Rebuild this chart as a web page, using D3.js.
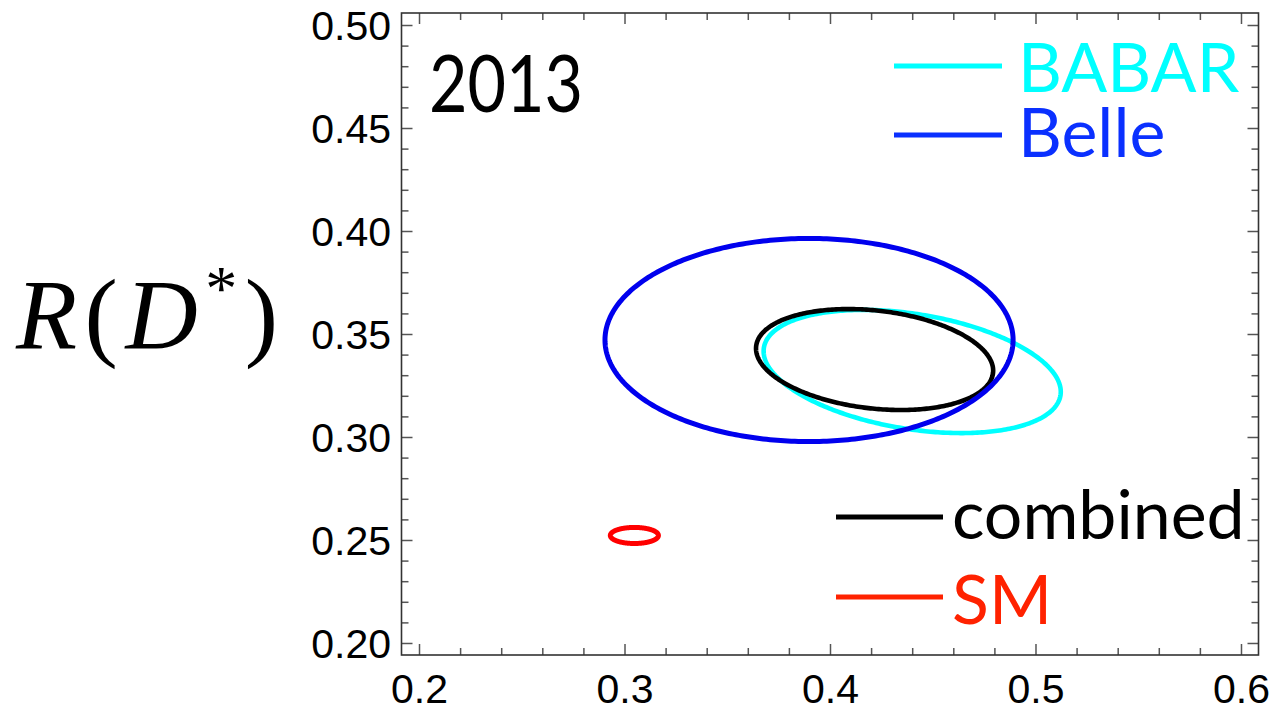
<!DOCTYPE html>
<html>
<head>
<meta charset="utf-8">
<script src="https://cdn.jsdelivr.net/npm/d3@7"></script>
<style>
  html, body { margin: 0; padding: 0; background: #ffffff; }
  svg { display: block; }
</style>
</head>
<body>
<svg id="chart" width="1275" height="712"></svg>
<script>
// R(D) on the x axis, R(D*) on the y axis
const xTickValues = [0.2, 0.3, 0.4, 0.5, 0.6];
const xTickLabels = ["0.2", "0.3", "0.4", "0.5", "0.6"];
const yTickValues = [0.20, 0.25, 0.30, 0.35, 0.40, 0.45, 0.50];
const yTickLabels = ["0.20", "0.25", "0.30", "0.35", "0.40", "0.45", "0.50"];

// 1-sigma contours: centre, widths and correlation
const contourNames   = ["BABAR", "combined", "Belle", "SM"];
const contourRD      = [0.440, 0.4217, 0.3898, 0.3048];
const contourRDstar  = [0.3318, 0.3376, 0.3471, 0.2522];
const contourSigRD   = [0.0723, 0.0577, 0.0993, 0.0117];
const contourSigRDs  = [0.0299, 0.0245, 0.0493, 0.0039];
const contourRho     = [-0.33, -0.22, 0.0, 0.0];

const legendNames = ["BABAR", "Belle", "combined", "SM"];

const colors = {
  BABAR: "#00ffff",
  Belle: "#0000ee",
  combined: "#000000",
  SM: "#ff0000"
};
const legendColors = {
  BABAR: "#00ffff",
  Belle: "#0a30ff",
  combined: "#000000",
  SM: "#ff2200"
};

const svg = d3.select("#chart");

const plot = { left: 401.5, right: 1258.5, top: 13, bottom: 655 };

const x = d3.scaleLinear().domain([0.19148, 0.60852]).range([plot.left, plot.right]);
const y = d3.scaleLinear().domain([0.19417, 0.50583]).range([plot.bottom, plot.top]);

const xMinor = d3.range(0.2, 0.6001, 0.02).map(v => +v.toFixed(2)).filter(v => !xTickValues.some(m => Math.abs(m - v) < 1e-9));
const yMinor = d3.range(0.20, 0.5001, 0.01).map(v => +v.toFixed(2)).filter(v => !yTickValues.some(m => Math.abs(m - v) < 1e-9));

const axisColor = "#555";
const majorLen = 11, minorLen = 7;

function styleAxis(g) {
  g.select(".domain").remove();
  g.selectAll(".tick line").attr("stroke", axisColor).attr("stroke-width", 1.5);
}

// bottom
svg.append("g").attr("transform", `translate(0,${plot.bottom})`)
  .call(d3.axisBottom(x).tickValues(xMinor).tickSize(-minorLen).tickFormat(""))
  .call(styleAxis);
const gx = svg.append("g").attr("transform", `translate(0,${plot.bottom})`)
  .call(d3.axisBottom(x).tickValues(xTickValues).tickSize(-majorLen)
    .tickFormat((d, i) => xTickLabels[i]))
  .call(styleAxis);
gx.selectAll(".tick text")
  .attr("y", 48).attr("dy", 0)
  .attr("fill", "#000")
  .style("font-family", "'Liberation Sans', Arial, sans-serif")
  .style("font-size", "41px");

// top
svg.append("g").attr("transform", `translate(0,${plot.top})`)
  .call(d3.axisTop(x).tickValues(xMinor).tickSize(-minorLen).tickFormat(""))
  .call(styleAxis);
svg.append("g").attr("transform", `translate(0,${plot.top})`)
  .call(d3.axisTop(x).tickValues(xTickValues).tickSize(-majorLen).tickFormat(""))
  .call(styleAxis);

// left
svg.append("g").attr("transform", `translate(${plot.left},0)`)
  .call(d3.axisLeft(y).tickValues(yMinor).tickSize(-minorLen).tickFormat(""))
  .call(styleAxis);
const gy = svg.append("g").attr("transform", `translate(${plot.left},0)`)
  .call(d3.axisLeft(y).tickValues(yTickValues).tickSize(-majorLen)
    .tickFormat((d, i) => yTickLabels[i]))
  .call(styleAxis);
gy.selectAll(".tick text")
  .attr("x", -10.5).attr("dy", "0.35em")
  .attr("fill", "#000")
  .style("font-family", "'Liberation Sans', Arial, sans-serif")
  .style("font-size", "41px");

// right
svg.append("g").attr("transform", `translate(${plot.right},0)`)
  .call(d3.axisRight(y).tickValues(yMinor).tickSize(-minorLen).tickFormat(""))
  .call(styleAxis);
svg.append("g").attr("transform", `translate(${plot.right},0)`)
  .call(d3.axisRight(y).tickValues(yTickValues).tickSize(-majorLen).tickFormat(""))
  .call(styleAxis);

// frame
svg.append("rect")
  .attr("x", plot.left).attr("y", plot.top)
  .attr("width", plot.right - plot.left).attr("height", plot.bottom - plot.top)
  .attr("fill", "none").attr("stroke", "#333").attr("stroke-width", 1.6);

// contours
const contours = contourNames.map((name, i) => ({
  name, cx: contourRD[i], cy: contourRDstar[i],
  sx: contourSigRD[i], sy: contourSigRDs[i], rho: contourRho[i]
}));

const line = d3.line().x(p => x(p[0])).y(p => y(p[1])).curve(d3.curveLinearClosed);
const angles = d3.range(0, 2 * Math.PI, Math.PI / 180);

const widths = { BABAR: 4.6, combined: 4.6, Belle: 5, SM: 5 };

svg.append("g").selectAll("path")
  .data(contours)
  .join("path")
  .attr("d", c => line(angles.map(t => [
    c.cx + c.sx * Math.cos(t),
    c.cy + c.sy * (c.rho * Math.cos(t) + Math.sqrt(1 - c.rho * c.rho) * Math.sin(t))
  ])))
  .attr("fill", "none")
  .attr("stroke", c => colors[c.name])
  .attr("stroke-width", c => widths[c.name]);

// year tag
svg.append("text")
  .attr("x", 429).attr("y", 112)
  .attr("textLength", 154).attr("lengthAdjust", "spacingAndGlyphs")
  .style("font-family", "Lato, 'Open Sans', sans-serif")
  .style("font-size", "79px")
  .attr("fill", "#000")
  .text("2013");

// legend
const legendPos = {
  BABAR:    { x1: 894, x2: 1002, ly: 66,  tx: 1018, ty: 92 },
  Belle:    { x1: 894, x2: 1002, ly: 135, tx: 1018, ty: 157 },
  combined: { x1: 836, x2: 943,  ly: 517, tx: 952,  ty: 539 },
  SM:       { x1: 836, x2: 943,  ly: 597, tx: 952,  ty: 624 }
};
const leg = svg.append("g").selectAll("g").data(legendNames).join("g");
leg.append("line")
  .attr("x1", d => legendPos[d].x1).attr("x2", d => legendPos[d].x2)
  .attr("y1", d => legendPos[d].ly).attr("y2", d => legendPos[d].ly)
  .attr("stroke", d => legendColors[d]).attr("stroke-width", 5);
leg.append("text")
  .attr("x", d => legendPos[d].tx).attr("y", d => legendPos[d].ty)
  .attr("fill", d => legendColors[d])
  .style("font-family", "Lato, 'Open Sans', sans-serif")
  .style("font-size", "68px")
  .text(d => d);

// y axis title R(D*)
const yt = svg.append("text")
  .attr("x", 16).attr("y", 348)
  .attr("textLength", 262).attr("lengthAdjust", "spacing")
  .style("font-family", "'Liberation Serif', 'DejaVu Serif', serif")
  .style("font-size", "100px")
  .attr("fill", "#000");
yt.append("tspan").style("font-style", "italic").text("R");
yt.append("tspan").text("(");
yt.append("tspan").style("font-style", "italic").text("D");
yt.append("tspan").attr("dy", -38).style("font-size", "64px").text("*");
yt.append("tspan").attr("dy", 38).text(")");
</script>
</body>
</html>
